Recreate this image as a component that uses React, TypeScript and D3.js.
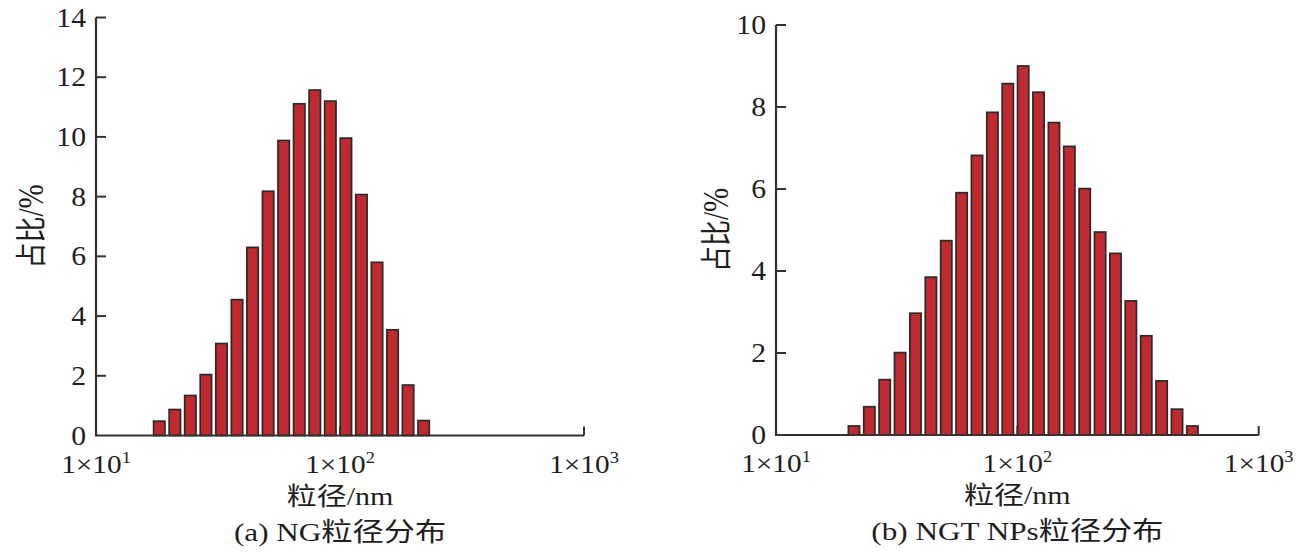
import React from "react";
import * as d3 from "d3";

// Bin centres (nm) and percentages
const sizesA = [18.17, 21.04, 24.36, 28.21, 32.67, 37.84, 43.82, 50.75, 58.77, 68.06, 78.82, 91.28, 105.7, 122.4, 141.8, 164.2, 190.1, 220.2];
const valuesA = [0.48, 0.87, 1.34, 2.04, 3.08, 4.55, 6.3, 8.18, 9.88, 11.11, 11.57, 11.2, 9.96, 8.07, 5.8, 3.54, 1.69, 0.5];

const sizesB = [21.04, 24.36, 28.21, 32.67, 37.84, 43.82, 50.75, 58.77, 68.06, 78.82, 91.28, 105.7, 122.4, 141.8, 164.2, 190.1, 220.2, 255.0, 295.3, 342.0, 396.1, 458.7, 531.2];
const valuesB = [0.22, 0.69, 1.35, 2.01, 2.97, 3.85, 4.74, 5.91, 6.82, 7.87, 8.57, 9.0, 8.36, 7.62, 7.04, 6.01, 4.95, 4.43, 3.27, 2.42, 1.32, 0.63, 0.22];

const xTicks = [10, 100, 1000];
const xTickExp = ["1", "2", "3"];
const yTicksA = [0, 2, 4, 6, 8, 10, 12, 14];
const yTicksB = [0, 2, 4, 6, 8, 10];

const xTitle = "粒径/nm";
const yTitleCJK = "占比";
const yTitleUnit = "/%";
const titleA = "(a) NG粒径分布";
const titleB = "(b) NGT NPs粒径分布";

const FONT = "'Liberation Serif', 'Times New Roman', 'Noto Sans CJK SC', serif";
const SX = 1.2;
const AXIS = "#333";
const FILL = "#c0292f";
const STROKE = "#2a2a2a";
const INK = "#1e1e1e";

type PanelProps = {
  sizes: number[];
  values: number[];
  yTicks: number[];
  yMax: number;
  x0: number;
  x1: number;
  y0: number;
  y1: number;
  yLabelX: number;
  title: string;
};

function Panel({ sizes, values, yTicks, yMax, x0, x1, y0, y1, yLabelX, title }: PanelProps) {
  const x = d3.scaleLog().domain([10, 1000]).range([x0, x1]);
  const y = d3.scaleLinear().domain([0, yMax]).range([y0, y1]);
  const pitch = x(sizes[1]) - x(sizes[0]);
  const bw = pitch * 0.73;
  const cx = (x0 + x1) / 2;
  return (
    <g>
      {sizes.map((s, i) => (
        <rect
          key={i}
          x={x(s) - bw / 2}
          y={y(values[i])}
          width={bw}
          height={y(0) - y(values[i])}
          fill={FILL}
          stroke={STROKE}
          strokeWidth={1.7}
        />
      ))}
      {/* axes */}
      <path d={`M${x0},${y1}V${y0}H${x1}`} fill="none" stroke={AXIS} strokeWidth={2.2} />
      {yTicks.map((t) => (
        <g key={t}>
          {t > 0 && <line x1={x0} x2={x0 + 10} y1={y(t)} y2={y(t)} stroke={AXIS} strokeWidth={2} />}
          <text
            transform={`translate(${x0 - 10},${y(t)}) scale(1.1,1)`}
            textAnchor="end"
            dominantBaseline="central"
            fontFamily={FONT}
            fontSize={27}
            fill={INK}
          >
            {t}
          </text>
        </g>
      ))}
      {xTicks.map((t, i) => (
        <g key={t}>
          {i > 0 && <line x1={x(t)} x2={x(t)} y1={y0} y2={y0 - 9} stroke={AXIS} strokeWidth={2} />}
          <text
            transform={`translate(${x(t)},${y0 + 37}) scale(1.15,1)`}
            textAnchor="middle"
            fontFamily={FONT}
            fontSize={25.5}
            fill={INK}
          >
            1×10
            <tspan fontSize={16} dy={-10}>{xTickExp[i]}</tspan>
          </text>
        </g>
      ))}
      <text
        transform={`translate(${cx},${y0 + 69}) scale(${SX},1)`}
        textAnchor="middle"
        fontFamily={FONT}
        fontSize={25}
        fill={INK}
      >
        {xTitle}
      </text>
      <text
        transform={`translate(${cx},${y0 + 105}) scale(${SX},1)`}
        textAnchor="middle"
        fontFamily={FONT}
        fontSize={26}
        fill={INK}
      >
        {title}
      </text>
      <text
        transform={`translate(${yLabelX},${(y0 + y1) / 2}) scale(${SX},1) rotate(-90)`}
        textAnchor="middle"
        dominantBaseline="central"
        fontFamily={FONT}
        fontSize={26}
        fill={INK}
      >
        {yTitleCJK}
        <tspan fontSize={29}>{yTitleUnit}</tspan>
      </text>
    </g>
  );
}

export default function App() {
  return (
    <svg
      width={1302}
      height={556}
      viewBox="0 0 1302 556"
      style={{ position: "absolute", left: 0, top: 0, background: "#fff" }}
    >
      <rect width={1302} height={556} fill="#fff" />
      <Panel
        sizes={sizesA}
        values={valuesA}
        yTicks={yTicksA}
        yMax={14}
        x0={96}
        x1={584}
        y0={435.5}
        y1={17.5}
        yLabelX={31}
        title={titleA}
      />
      <Panel
        sizes={sizesB}
        values={valuesB}
        yTicks={yTicksB}
        yMax={10}
        x0={776}
        x1={1258.7}
        y0={435}
        y1={25}
        yLabelX={716}
        title={titleB}
      />
    </svg>
  );
}
